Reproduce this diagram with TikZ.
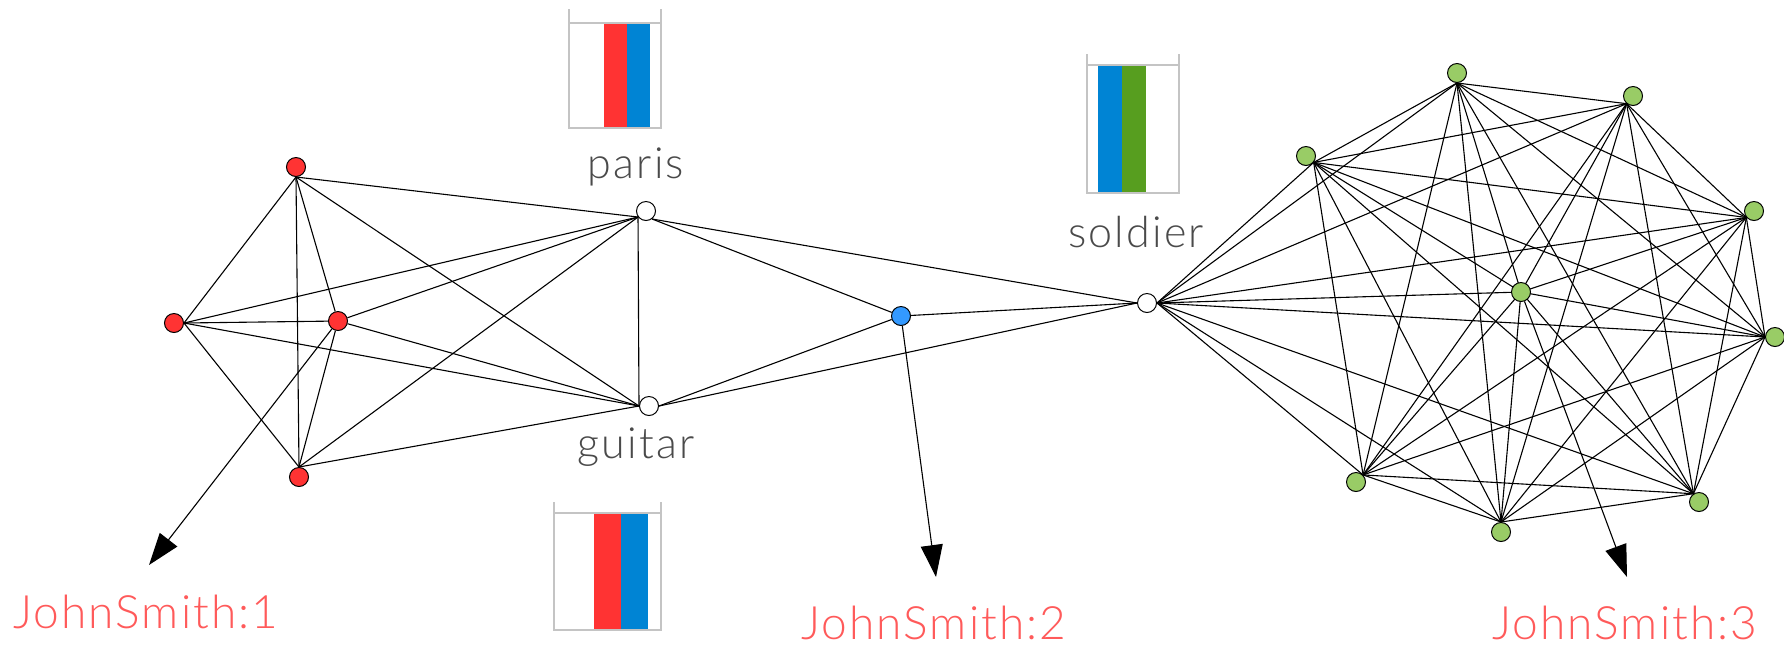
\documentclass[tikz,border=0pt]{standalone}
\usepackage{fontspec}
\newfontfamily\wordfont{Lato Light}[LetterSpace=5]
\newfontfamily\ownerfont{Lato Light}[LetterSpace=4.5]
\usetikzlibrary{arrows.meta,backgrounds}
\definecolor{nodered}{HTML}{FF3333}
\definecolor{nodeblue}{HTML}{3399FF}
\definecolor{nodegreen}{HTML}{99CC66}
\definecolor{barred}{HTML}{FF3333}
\definecolor{barblue}{HTML}{0084D4}
\definecolor{bargreen}{HTML}{579E1F}
\definecolor{framegray}{HTML}{C4C4C4}
\definecolor{wordgray}{HTML}{4A4A4A}
\definecolor{namepink}{HTML}{FF5A5A}
\begin{document}
\begin{tikzpicture}[x=0.5pt,y=-0.5pt,
  vertex/.style={circle,draw=black,line width=0.5pt,minimum size=9.5pt,inner sep=0pt},
  edge/.style={line width=0.55pt,black},
  pointer/.style={edge,-{Triangle[length=16pt,width=11pt]}},
  word/.style={font=\wordfont\fontsize{21.5pt}{25pt}\selectfont,text=wordgray,anchor=base,inner sep=0pt},
  owner/.style={font=\ownerfont\fontsize{23pt}{27pt}\selectfont,text=namepink,anchor=base,inner sep=0pt},
  frame/.style={draw=framegray,line width=0.7pt}
]
\useasboundingbox (0,0) rectangle (1784,645);

% bar glyphs above/below the word nodes
\fill[barred]  (604,23) rectangle (627,128);
\fill[barblue] (627,23) rectangle (650,128);
\draw[frame] (569,9) -- (569,128) -- (661,128) -- (661,9) (569,23) -- (661,23);

\fill[barred]  (594,513) rectangle (621,630);
\fill[barblue] (621,513) rectangle (648,630);
\draw[frame] (554,502) -- (554,630) -- (661,630) -- (661,502) (554,513) -- (661,513);

\fill[barblue]  (1098,65) rectangle (1122,193);
\fill[bargreen] (1122,65) rectangle (1146,193);
\draw[frame] (1087,54) -- (1087,193) -- (1179,193) -- (1179,54) (1087,65) -- (1179,65);

% word labels
\node[word] (lparis)   at (636,178)  {paris};
\node[word] (lguitar)  at (636,458)  {guitar};
\node[word] (lsoldier) at (1136,247) {soldier};

% owner labels
\node[owner] (js1) at (146,628)   {JohnSmith:1};
\node[owner] (js2) at (934,639)   {JohnSmith:2};
\node[owner] (js3) at (1625,639)  {JohnSmith:3};

% vertices
\node[vertex,fill=nodered] (r1) at (296,167) {};
\node[vertex,fill=nodered] (r2) at (174,323) {};
\node[vertex,fill=nodered] (r3) at (338,321) {};
\node[vertex,fill=nodered] (r4) at (299,477) {};
\node[vertex,fill=white] (paris)   at (646,211) {};
\node[vertex,fill=white] (guitar)  at (649,406) {};
\node[vertex,fill=nodeblue] (blue) at (901,316) {};
\node[vertex,fill=white] (soldier) at (1147,303) {};
\node[vertex,fill=nodegreen] (g1) at (1457,73) {};
\node[vertex,fill=nodegreen] (g2) at (1633,96) {};
\node[vertex,fill=nodegreen] (g3) at (1306,156) {};
\node[vertex,fill=nodegreen] (g4) at (1754,211) {};
\node[vertex,fill=nodegreen] (g5) at (1775,337) {};
\node[vertex,fill=nodegreen] (g6) at (1521,292) {};
\node[vertex,fill=nodegreen] (g7) at (1356,482) {};
\node[vertex,fill=nodegreen] (g8) at (1501,532) {};
\node[vertex,fill=nodegreen] (g9) at (1699,502) {};

% arrow targets
\coordinate (t1) at (149,565);
\coordinate (t2) at (936,577);
\coordinate (t3) at (1627,577);

\def\greenports{1/-90,2/-130,3/-40,4/-140,5/180,6/center,7/45,8/90,9/124}

\begin{scope}[on background layer]
  % red clique
  \draw[edge] (r1.south) -- (r2.east);
  \draw[edge] (r1.south) -- (r3);
  \draw[edge] (r1.south) -- (r4.north);
  \draw[edge] (r2.east) -- (r3);
  \draw[edge] (r2.east) -- (r4.north);
  \draw[edge] (r3) -- (r4.north);
  % red vertices to paris and guitar
  \foreach \r in {r1.south,r2.east,r3,r4.north} {
    \draw[edge] (\r) -- (paris.-143);
    \draw[edge] (\r) -- (guitar.west);
  }
  % middle links
  \draw[edge] (paris.-143) -- (guitar.west);
  \draw[edge] (paris.-53) -- (blue);
  \draw[edge] (paris.-53) -- (soldier.west);
  \draw[edge] (guitar.east) -- (blue);
  \draw[edge] (guitar.east) -- (soldier.west);
  \draw[edge] (blue) -- (soldier.west);
  % soldier to green
  \foreach \i/\ai in \greenports {
    \draw[edge] (soldier.east) -- (g\i.\ai);
  }
  % green clique
  \foreach \i/\ai [count=\n] in \greenports {
    \foreach \j/\aj [count=\m] in \greenports {
      \ifnum\m>\n \draw[edge] (g\i.\ai) -- (g\j.\aj); \fi
    }
  }
  % pointers to owners
  \draw[pointer] (r3) -- (t1);
  \draw[pointer] (blue) -- (t2);
  \draw[pointer] (g6) -- (t3);
\end{scope}
\end{tikzpicture}
\end{document}
